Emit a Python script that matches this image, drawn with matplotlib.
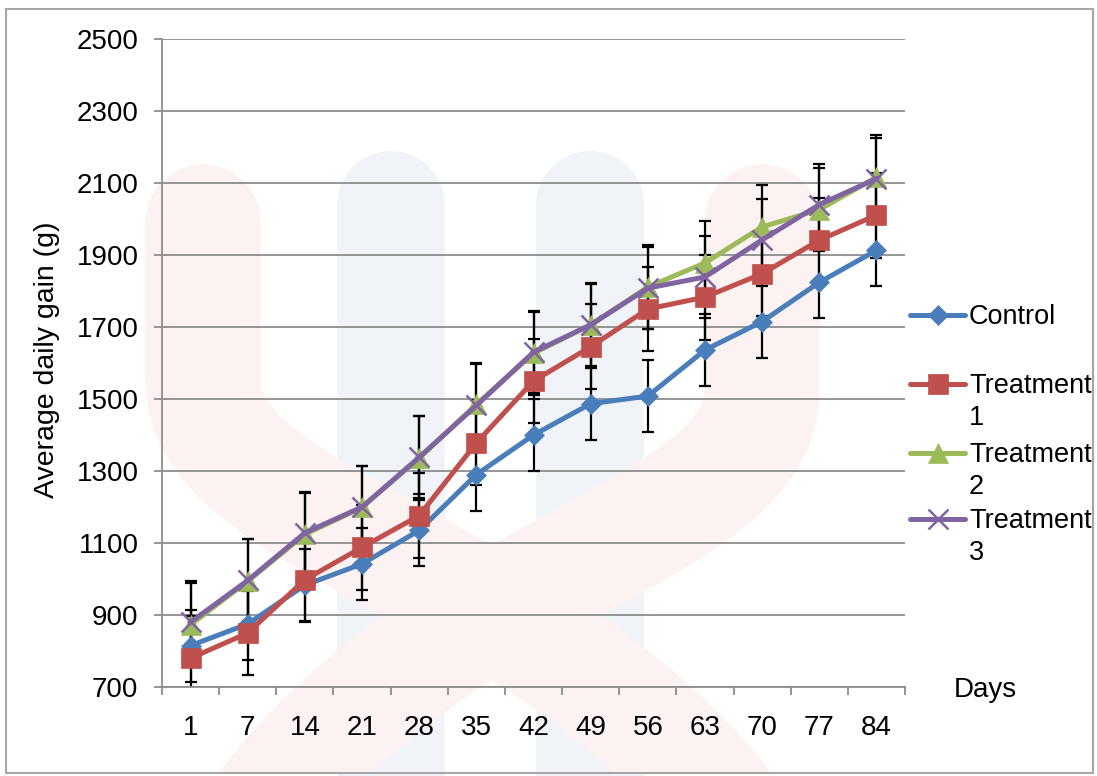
import numpy as np
import matplotlib
matplotlib.use("Agg")
import matplotlib.pyplot as plt
from matplotlib.lines import Line2D
from matplotlib.patches import Rectangle, PathPatch
from matplotlib.path import Path

plt.rcParams['font.family'] = ['Liberation Sans', 'DejaVu Sans']

days = ['1', '7', '14', '21', '28', '35', '42', '49', '56', '63', '70', '77', '84']
control = [815, 875, 983, 1042, 1135, 1290, 1400, 1487, 1508, 1636, 1715, 1824, 1913]
treat1 = [780, 850, 998, 1088, 1176, 1378, 1550, 1645, 1750, 1783, 1848, 1941, 2011]
treat2 = [873, 994, 1124, 1199, 1336, 1485, 1627, 1706, 1811, 1878, 1978, 2026, 2116]
treat3 = [880, 996, 1128, 1200, 1338, 1482, 1630, 1706, 1808, 1839, 1942, 2040, 2112]
err_control = 100
err_t1 = 118
err_t2 = 116
err_t3 = 114

names = ['Control', 'Treatment\n1', 'Treatment\n2', 'Treatment\n3']
colors = ['#4a7ebb', '#c0504d', '#9bbb59', '#8064a2']
markers = ['D', 's', '^', 'x']
msizes = [10, 14, 14, 14]

W, H = 1097, 776
fig = plt.figure(figsize=(W / 100, H / 100), dpi=100)


def fx(px):
    return px / W


def fy(py):
    return 1 - py / H


# faint background watermark
wm_blue = '#f0f4f8'
wm_red = '#fdf2f2'
for cx in [391, 590]:
    fig.add_artist(Line2D([fx(cx), fx(cx)], [fy(205), fy(800)], color=wm_blue,
                          lw=108 * 0.72, solid_capstyle='round', zorder=-3))
rib_l = Path([(fx(203), fy(222)), (fx(203), fy(380)),
              (fx(203), fy(520)), (fx(520), fy(560)), (fx(720), fy(800))],
             [Path.MOVETO, Path.LINETO, Path.CURVE4, Path.CURVE4, Path.CURVE4])
rib_r = Path([(fx(762), fy(222)), (fx(762), fy(390)),
              (fx(762), fy(530)), (fx(460), fy(560)), (fx(270), fy(800))],
             [Path.MOVETO, Path.LINETO, Path.CURVE4, Path.CURVE4, Path.CURVE4])
for p in [rib_l, rib_r]:
    pp = PathPatch(p, facecolor='none', edgecolor=wm_red, lw=115 * 0.72,
                   capstyle='round', transform=fig.transFigure, zorder=-2)
    fig.add_artist(pp)
    pp.set_clip_path(Rectangle((fx(6), fy(773)), fx(1087), 764 / H,
                               transform=fig.transFigure))

# outer frame
fig.add_artist(Rectangle((fx(6), fy(773)), fx(1087), 764 / H, fill=False,
                         edgecolor='#a6a6a6', lw=1.5, transform=fig.transFigure, zorder=5))

ax = fig.add_axes([fx(162), fy(687), fx(905 - 162), (687 - 39) / H])
ax.set_facecolor('none')

x = np.arange(len(days))
series = [control, treat1, treat2, treat3]
errs = [err_control, err_t1, err_t2, err_t3]

for vals, e in zip(series, errs):
    ax.errorbar(x, vals, yerr=e, fmt='none', ecolor='black', elinewidth=1.6,
                capsize=4.5, capthick=1.6, zorder=2)

for vals, c, m, ms in zip(series, colors, markers, msizes):
    ax.plot(x, vals, color=c, lw=3.6, marker=m, ms=ms, mew=1.8 if m == 'x' else 0.5,
            mec=c, mfc=c, zorder=3)

ax.set_xlim(-0.5, len(days) - 0.5)
ax.set_ylim(700, 2500)
ax.set_yticks(np.arange(700, 2501, 200))
ax.set_xticks(x)
ax.set_xticklabels(days)
ax.set_xticks(np.arange(-0.5, len(days)), minor=True)
ax.grid(axis='y', color='#8c8c8c', lw=1.3, zorder=1)
ax.set_axisbelow(True)
for s in ['top', 'right']:
    ax.spines[s].set_visible(False)
for s in ['left', 'bottom']:
    ax.spines[s].set_color('#8c8c8c')
    ax.spines[s].set_linewidth(1.3)
ax.tick_params(axis='y', length=6, color='#8c8c8c', width=1.3, pad=11, labelsize=20)
ax.tick_params(axis='x', which='major', length=0, pad=20, labelsize=20)
ax.tick_params(axis='x', which='minor', length=6, color='#8c8c8c', width=1.3)

fig.text(fx(47), fy(360), 'Average daily gain (g)', rotation=90, ha='center',
         va='center', fontsize=20.5)
fig.text(fx(985), fy(690), 'Days', ha='center', va='center', fontsize=20)

# legend drawn by hand so the handle sits on the first text line
leg_y = [315, 384, 453, 519]
for name, c, m, ms, ly in zip(names, colors, markers, msizes, leg_y):
    fig.add_artist(Line2D([fx(910), fx(965)], [fy(ly), fy(ly)], color=c, lw=3.6,
                          solid_capstyle='round'))
    fig.add_artist(Line2D([fx(937.5)], [fy(ly)], color=c, marker=m, ms=ms,
                          mew=1.8 if m == 'x' else 0.5, mec=c, mfc=c))
    fig.text(fx(969), fy(ly - 11), name, ha='left', va='top', fontsize=19.5,
             linespacing=1.32)

fig.savefig('out.png', dpi=100)
